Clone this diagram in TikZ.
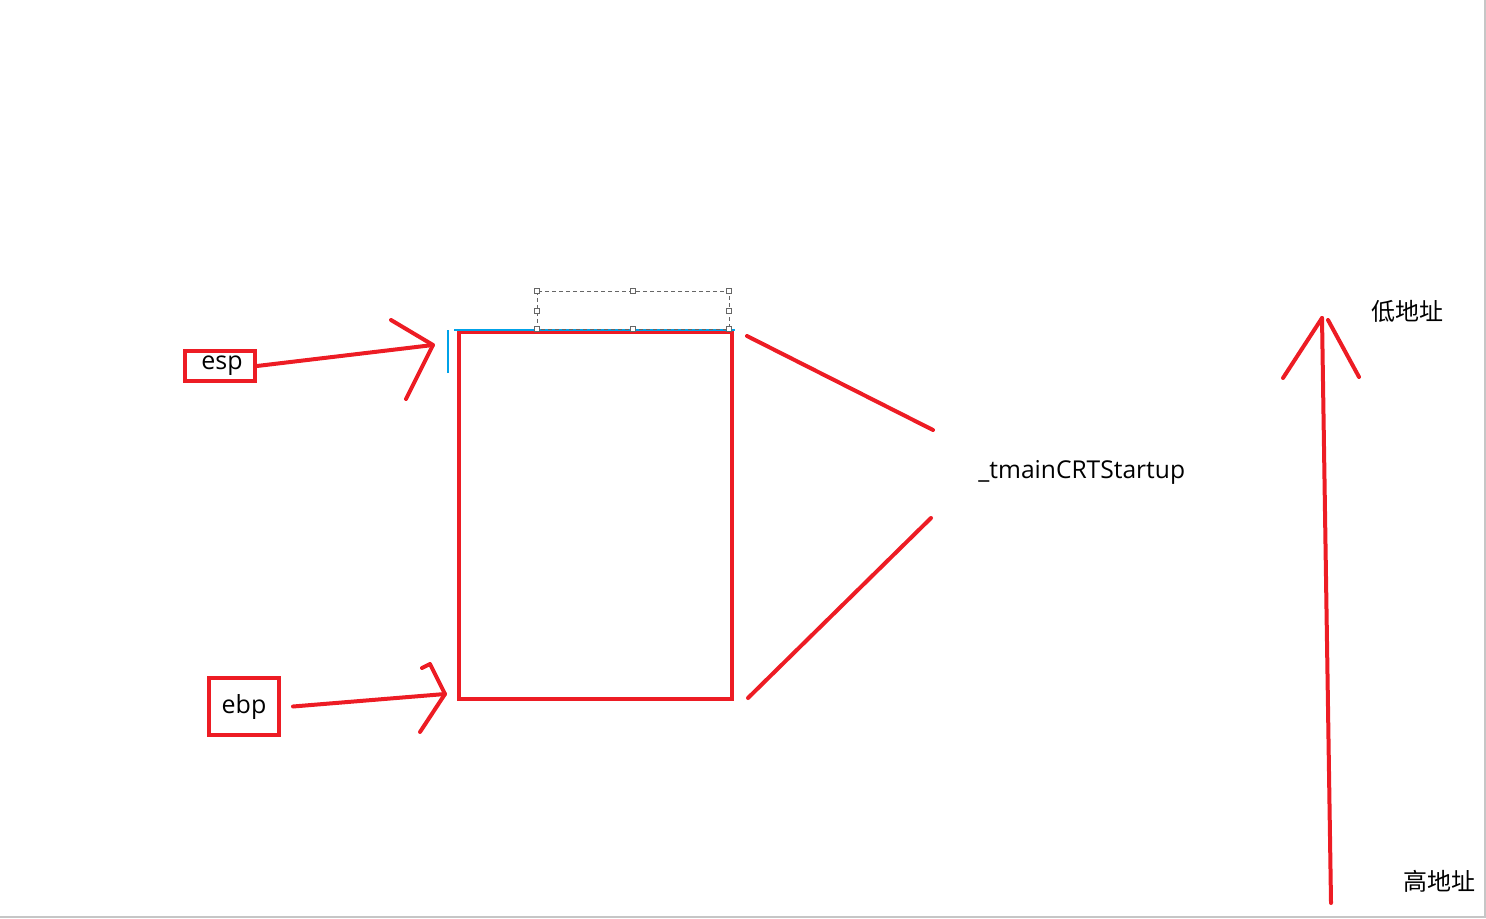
\documentclass[tikz,border=0pt]{standalone}
\usepackage{fontspec}
\setmainfont{Open Sans}
\newfontfamily\cjk{Noto Sans CJK SC}
\definecolor{penred}{RGB}{237,28,36}
\definecolor{selblue}{RGB}{0,162,232}

\begin{document}
\begin{tikzpicture}[x=0.5pt, y=-0.5pt,
      pen/.style={draw=penred, line width=2pt, line cap=round, line join=round},
      reg/.style={draw=penred, line width=2pt, inner sep=0pt, font=\fontsize{12.5}{14}\selectfont},
      handle/.style={draw=gray!80!black, fill=white, line width=0.4pt,
         minimum size=2.5pt, inner sep=0pt}]
      \useasboundingbox (0,0) rectangle (1486,919);

      % window edge
      \draw [gray!45, line width=1pt] (0,917) -- (1485,917) -- (1485,0);

      % stack frame
      \draw [pen, line cap=butt, line join=miter] (459,332) rectangle (732,699);
      \draw [selblue, line width=1pt] (448,373) -- (448,330) (454,330) -- (735,330);
      \draw [gray!80!black, dashed, line width=0.4pt, dash pattern=on 2pt off 1.5pt]
         (537,291) rectangle (729,329);
      \foreach \hx/\hy in {537/291, 633/291, 729/291, 537/311,
                           729/311, 537/329, 633/329, 729/329}
         \node [handle] at (\hx,\hy) {};

      % registers
      \node (esp) at (220,366) [reg, minimum width=35pt, minimum height=15pt] {\,esp};
      \node (ebp) at (244,706.5) [reg, minimum width=35pt, minimum height=28.5pt] {ebp};

      \coordinate (esptip) at (433,345);
      \coordinate (ebptip) at (445,694);
      \draw [pen] (esp.east) -- (esptip);
      \draw [pen] (391,320) -- (esptip) -- (406,399);
      \draw [pen] ([xshift=6pt]ebp.east) -- (ebptip);
      \draw [pen] (422,668) -- (430,664) -- (ebptip) -- (420,732);

      % function label
      \node (func) at (978,478) [anchor=base west, inner sep=0pt,
         font=\fontsize{12.3}{14}\selectfont] {\_tmainCRTStartup};
      \coordinate (upper) at (933,430);
      \coordinate (lower) at (931,518);
      \draw [pen] (747,336) -- (upper);
      \draw [pen] (748,698) -- (lower);

      % address direction
      \node (low) at (1407,311) [font=\cjk\fontsize{12}{14}\selectfont] {低地址};
      \node (high) at (1439,881) [font=\cjk\fontsize{12}{14}\selectfont] {高地址};
      \coordinate (top) at (1322,318);
      \draw [pen] (1331,903) -- (top);
      \draw [pen] (1283,378) -- (top);
      \draw [pen] (1328,320) -- (1359,377);
   \end{tikzpicture}
\end{document}
